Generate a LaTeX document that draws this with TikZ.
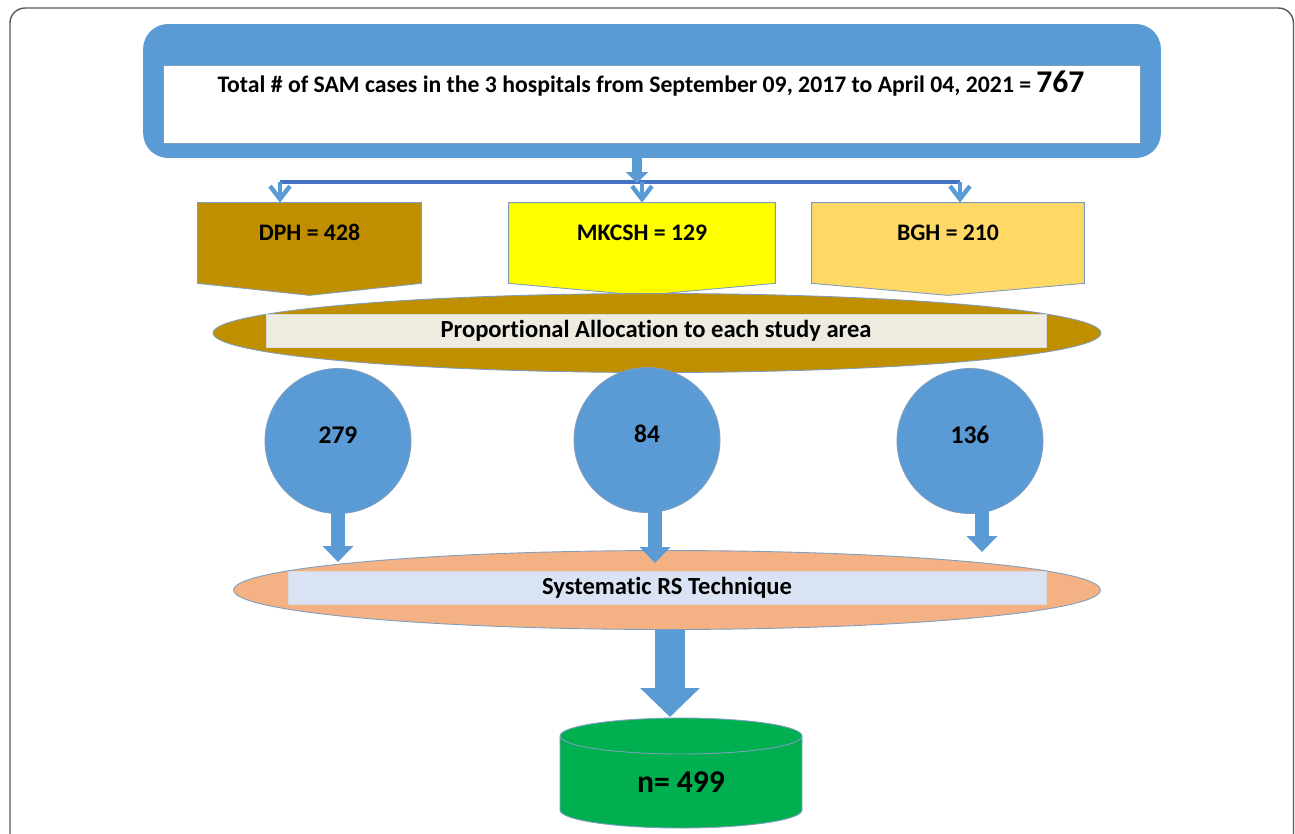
\documentclass[tikz,border=0pt]{standalone}
\usepackage{fontspec}
\setmainfont{Carlito}[Ligatures=NoCommon]
\usetikzlibrary{shapes.geometric,arrows.meta,backgrounds}
\definecolor{boxblue}{HTML}{5B9BD5}
\definecolor{lineblue}{HTML}{4472C4}
\definecolor{edgeblue}{HTML}{7F9DBF}
\definecolor{dphgold}{HTML}{BF8F00}
\definecolor{mkcshyellow}{HTML}{FFFF00}
\definecolor{bghsand}{HTML}{FFD966}
\definecolor{allocpaper}{HTML}{EEECE1}
\definecolor{rspeach}{HTML}{F4B183}
\definecolor{rspale}{HTML}{DAE3F3}
\definecolor{samplegreen}{HTML}{00B050}
\tikzset{
  labelfont/.style={font=\fontsize{13.5}{16}\selectfont\bfseries},
  pentabox/.style={labelfont, minimum height=1.6cm, text height=0.3cm, text depth=0.4cm, inner sep=0pt},
  penta/.style={draw=edgeblue, line width=0.5pt},
  bandellipse/.style={ellipse, draw=edgeblue, line width=0.5pt, minimum height=1.58cm},
  bandstrip/.style={font=\fontsize{14}{16}\selectfont\bfseries, draw=white!85!black, line width=0.4pt, minimum height=0.6cm},
  countcircle/.style={ellipse, font=\fontsize{14.5}{16}\selectfont\bfseries, fill=boxblue, draw=edgeblue, line width=0.5pt, minimum width=2.92cm, minimum height=2.9cm, text height=0.33cm, text depth=0.24cm},
  vtip/.style={boxblue, line width=2.5pt, -{Straight Barb[width=0.4cm, length=0.26cm]}},
  colarrow/.style={boxblue, line width=0.28cm, -{Triangle[width=0.6cm, length=0.32cm]}},
}
\begin{document}
\begin{tikzpicture}[x=0.02cm, y=-0.02cm]
\useasboundingbox (0,0) rectangle (1295,833);
\draw [gray!70!black, line width=0.8pt, rounded corners=0.3cm] (10,8) rectangle (1293.5,900);
% top box
\node [fill=boxblue, rounded corners=0.5cm, minimum width=20.36cm, minimum height=2.68cm] (total) at (652,91) {};
\node [fill=white, draw=edgeblue, line width=0.4pt, minimum width=19.54cm, minimum height=1.56cm] (totalin) at (651.5,104) {};
\node [labelfont] (totaltext) at (651,84) {Total \# of SAM cases in the 3 hospitals from September 09, 2017 to April 04, 2021 = {\fontsize{18}{20}\selectfont 767}};
% split to the hospitals
\coordinate (split) at (637,183);
\coordinate (hl) at (280,182);
\coordinate (hm) at (642,182);
\coordinate (hr) at (960,182);
\node [pentabox, minimum width=4.46cm] (dph) at (309.5,243) {DPH = 428};
\node [pentabox, minimum width=5.32cm] (mkcsh) at (642,243) {MKCSH = 129};
\node [pentabox, minimum width=5.44cm] (bgh) at (948,243) {BGH = 210};
\begin{scope}[on background layer]
\foreach \b/\c in {dph/dphgold, mkcsh/mkcshyellow, bgh/bghsand}
  \draw [penta, fill=\c] (\b.north west) -- (\b.north east) -- (\b.south east) -- ([yshift=-0.24cm]\b.south) -- (\b.south west) -- cycle;
\end{scope}
\draw [lineblue, line width=2.5pt] (hl) -- (hr);
\draw [boxblue, line width=0.2cm, -{Triangle[width=0.44cm, length=0.22cm]}] (total.south -| split) -- (split);
\draw [vtip] (hl) -- (hl |- dph.north);
\draw [vtip] (hm) -- (hm |- mkcsh.north);
\draw [vtip] (hr) -- (hr |- bgh.north);
% allocation
\node [bandellipse, fill=dphgold, minimum width=17.76cm] (alloc) at (657,333) {};
\node [bandstrip, fill=allocpaper, minimum width=15.6cm] (allocstrip) at (656,331) {Proportional Allocation to each study area};
\node [countcircle] (c1) at (338,441) {279};
\node [countcircle] (c2) at (647,440) {84};
\node [countcircle] (c3) at (970,441) {136};
% sampling
\node [bandellipse, fill=rspeach, minimum width=17.34cm] (rs) at (667,590) {};
\node [bandstrip, fill=rspale, minimum width=15.16cm] (rsstrip) at (667,588) {Systematic RS Technique};
\foreach \i/\x/\y in {1/338/562, 2/655/563, 3/982/552} {
  \coordinate (tip\i) at (\x,\y);
  \draw [colarrow] (c\i.south -| tip\i) ++(0,-12) -- (tip\i);
}
% result
\coordinate (drop) at (670,717);
\node [font=\fontsize{18}{20}\selectfont\bfseries] (sample) at (681,782) {n= 499};
\begin{scope}[on background layer]
\draw [fill=samplegreen, draw=edgeblue, line width=0.5pt] (560,736) -- (560,810) arc [start angle=180, end angle=0, x radius=121, y radius=18] -- (802,736) arc [start angle=0, end angle=-180, x radius=121, y radius=18] -- cycle;
\draw [draw=edgeblue, line width=0.5pt] (560,736) arc [start angle=180, end angle=0, x radius=121, y radius=18];
\end{scope}
\draw [boxblue, line width=0.6cm, -{Triangle[width=1.16cm, length=0.58cm]}] (rs.south -| drop) -- (drop);
\end{tikzpicture}
\end{document}
